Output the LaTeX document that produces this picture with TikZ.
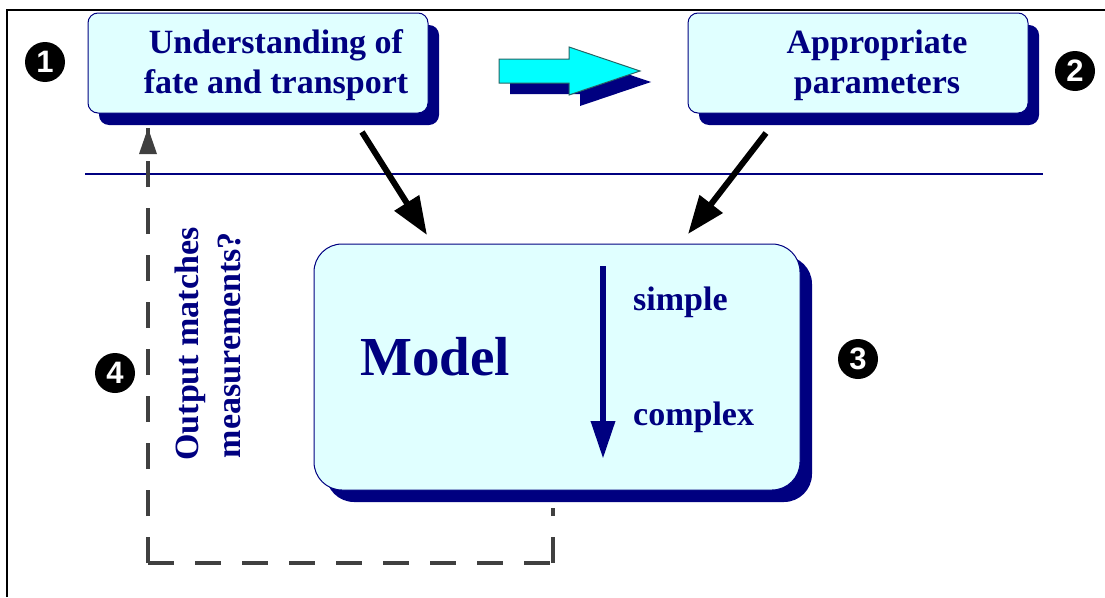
\documentclass[tikz,border=0pt]{standalone}
\usepackage{fontspec}
\setmainfont{Liberation Serif}
\setsansfont{Liberation Sans}
\usetikzlibrary{arrows.meta}
\definecolor{navy}{RGB}{0,0,128}
\definecolor{boxfill}{RGB}{224,255,255}
\definecolor{cyanarrow}{RGB}{0,255,255}
\definecolor{tealedge}{RGB}{40,100,100}
\definecolor{dashgray}{RGB}{64,64,64}
\tikzset{
  panel/.style={draw=navy, line width=1pt, fill=boxfill},
  shade/.style={fill=navy},
  btext/.style={text=navy, font=\fontsize{34}{40}\selectfont\bfseries, inner sep=0pt},
  numdot/.style={circle, fill=black, minimum size=40pt, inner sep=0pt, text=white, font=\sffamily\bfseries\fontsize{31}{31}\selectfont},
  flowarrow/.style={line width=6pt, -{Triangle[length=38pt,width=28pt]}},
  feedback/.style={draw=dashgray, line width=4pt, dash pattern=on 26pt off 21pt},
}
\begin{document}
\begin{tikzpicture}[x=1pt,y=-1pt]
\useasboundingbox (0,0) rectangle (1105,597);
% frame
\draw[line width=2pt] (7,597) -- (7,10) -- (1105,10);
% separator
\draw[navy, line width=1.2pt] (85,174) -- (1043,174);

% box 1
\fill[shade, rounded corners=10pt] (99,25) rectangle (439,125);
\draw[panel, rounded corners=10pt] (88,13) rectangle (428,113);
\node[btext, anchor=base] (t1a) at (276,53) {Understanding of};
\node[btext, anchor=base] (t1b) at (276,93) {fate and transport};
\coordinate (b1out) at (362,132);

% box 2
\fill[shade, rounded corners=10pt] (699,25) rectangle (1039,125);
\draw[panel, rounded corners=10pt] (688,13) rectangle (1028,113);
\node[btext, anchor=base] (t2a) at (877,53) {Appropriate};
\node[btext, anchor=base] (t2b) at (877,93) {parameters};
\coordinate (b2out) at (766,133);

% block arrow
\fill[navy] (510,70) -- (580,70) -- (580,58) -- (651,82) -- (580,106) -- (580,94) -- (510,94) -- cycle;
\draw[fill=cyanarrow, draw=tealedge, line width=1pt] (499,59) -- (569,59) -- (569,47) -- (640,71) -- (569,95) -- (569,83) -- (499,83) -- cycle;

% model box
\fill[shade, rounded corners=28pt] (326,256) rectangle (812,502);
\draw[panel, rounded corners=28pt] (314,244) rectangle (800,490);
\node[text=navy, font=\fontsize{55}{60}\selectfont\bfseries, inner sep=0pt, anchor=base west] (model) at (360,375) {Model};
\node[btext, anchor=base west] (simple) at (633,310) {simple};
\node[btext, anchor=base west] (complex) at (633,425) {complex};
\coordinate (sctop) at (603,266);
\coordinate (scbot) at (603,459);
\draw[navy, line width=6.5pt, -{Triangle[length=38pt,width=23pt]}] (sctop) -- (scbot);

% inputs to model
\coordinate (m1in) at (427,235);
\coordinate (m2in) at (688,234);
\draw[flowarrow] (b1out) -- (m1in);
\draw[flowarrow] (b2out) -- (m2in);

% feedback loop
\coordinate (fbstart) at (553,508);
\coordinate (fbcorner1) at (553,563);
\coordinate (fbcorner2) at (148,563);
\coordinate (fbend) at (148,128);
\draw[feedback] (fbcorner1) -- (fbstart);
\draw[feedback] (fbcorner2) -- (fbcorner1);
\draw[feedback] (fbcorner2) -- (fbend);
\fill[dashgray] (fbend) -- ++(-9,26) -- ++(18,0) -- cycle;
\node[btext, rotate=90, anchor=base] (q1) at (198,344) {Output matches};
\node[btext, rotate=90, anchor=base] (q2) at (240,345) {measurements?};

% numbers
\node[numdot] (n1) at (45,62) {1};
\node[numdot] (n2) at (1075,71) {2};
\node[numdot] (n3) at (858,359) {3};
\node[numdot] (n4) at (115,373) {4};
\end{tikzpicture}
\end{document}
